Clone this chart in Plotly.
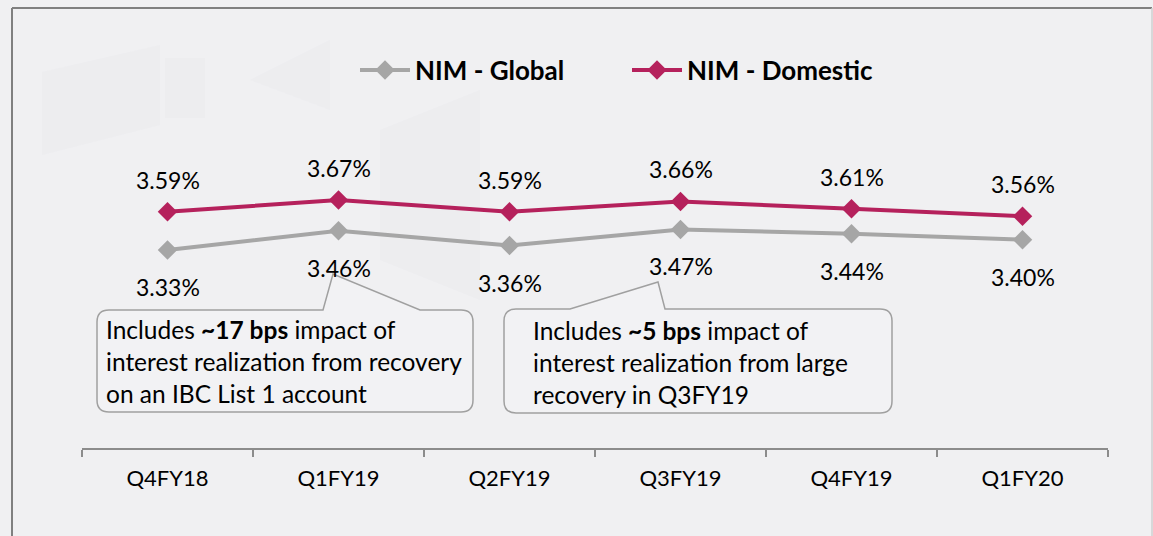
import plotly.graph_objects as go

quarters = ["Q4FY18", "Q1FY19", "Q2FY19", "Q3FY19", "Q4FY19", "Q1FY20"]
nim_global = [3.33, 3.46, 3.36, 3.47, 3.44, 3.40]
nim_domestic = [3.59, 3.67, 3.59, 3.66, 3.61, 3.56]
# \u200c prevents the Lato "ti" ligature
callout_1 = "Includes <b>~17 bps</b> impact of<br>interest realiza\u200ction from recovery<br>on an IBC List 1 account"
callout_2 = "Includes <b>~5 bps</b> impact of<br>interest realiza\u200ction from large<br>recovery in Q3FY19"

W, H = 1153, 536
PL, PR, PT, PB = 82, 1108, 100, 448
FONT = "Lato"
BG = "#F0F0F2"


def px(x):
    return (x - PL) / (PR - PL)


def py(y):
    return (PB - y) / (PB - PT)


def callout_path(L, R, T, B, a, b, ax, ay, r=12):
    s = f"M {px(L + r)},{py(T)} L {px(a)},{py(T)} L {px(ax)},{py(ay)} L {px(b)},{py(T)} "
    s += f"L {px(R - r)},{py(T)} Q {px(R)},{py(T)} {px(R)},{py(T + r)} "
    s += f"L {px(R)},{py(B - r)} Q {px(R)},{py(B)} {px(R - r)},{py(B)} "
    s += f"L {px(L + r)},{py(B)} Q {px(L)},{py(B)} {px(L)},{py(B - r)} "
    s += f"L {px(L)},{py(T + r)} Q {px(L)},{py(T)} {px(L + r)},{py(T)} Z"
    return s


fig = go.Figure()
fig.add_trace(go.Scatter(
    x=quarters, y=nim_global, name="NIM - Global", mode="lines+markers",
    line=dict(color="#A6A6A6", width=4),
    marker=dict(symbol="diamond", size=15, color="#A6A6A6"),
))
fig.add_trace(go.Scatter(
    x=quarters, y=nim_domestic, name="NIM - Domestic", mode="lines+markers",
    line=dict(color="#B5215C", width=4),
    marker=dict(symbol="diamond", size=15, color="#B5215C"),
))

annotations = []
for q, v in zip(quarters, nim_domestic):
    annotations.append(dict(x=q, y=v, xref="x", yref="y", text=f"{v:.2f}%", showarrow=False,
                            yshift=32, font=dict(family=FONT, size=23, color="#000000")))
for q, v in zip(quarters, nim_global):
    annotations.append(dict(x=q, y=v, xref="x", yref="y", text=f"{v:.2f}%", showarrow=False,
                            yshift=-37, font=dict(family=FONT, size=23, color="#000000")))

annotations.append(dict(x=px(104), y=py(313), xref="paper", yref="paper", text=callout_1,
                        showarrow=False, xanchor="left", yanchor="top", align="left",
                        font=dict(family=FONT, size=24.5, color="#000000")))
annotations.append(dict(x=px(531), y=py(314), xref="paper", yref="paper", text=callout_2,
                        showarrow=False, xanchor="left", yanchor="top", align="left",
                        font=dict(family=FONT, size=24.5, color="#000000")))

shapes = []
# faint watermark shapes
wm = "rgba(220,220,225,0.14)"
for poly in [
    [(42, 72), (160, 45), (160, 125), (42, 155)],
    [(250, 80), (330, 40), (330, 110)],
    [(165, 58), (205, 58), (205, 118), (165, 118)],
    [(380, 130), (480, 90), (480, 300), (380, 260)],
]:
    d = "M " + " L ".join(f"{px(x)},{py(y)}" for x, y in poly) + " Z"
    shapes.append(dict(type="path", path=d, xref="paper", yref="paper",
                       fillcolor=wm, line=dict(width=0), layer="below"))

# frame
shapes.append(dict(type="line", xref="paper", yref="paper", x0=px(12), x1=px(1152), y0=py(8), y1=py(8),
                   line=dict(color="#808080", width=2)))
shapes.append(dict(type="line", xref="paper", yref="paper", x0=px(12), x1=px(12), y0=py(8), y1=py(540),
                   line=dict(color="#808080", width=2)))
shapes.append(dict(type="line", xref="paper", yref="paper", x0=px(1152), x1=px(1152), y0=py(8), y1=py(540),
                   line=dict(color="#D0D0D0", width=1.5)))

# callout boxes
shapes.append(dict(type="path", xref="paper", yref="paper",
                   path=callout_path(97, 473, 310, 412, 323, 420, 333, 274),
                   fillcolor="#F2F2F4", line=dict(color="#A0A0A0", width=1.5)))
shapes.append(dict(type="path", xref="paper", yref="paper",
                   path=callout_path(504, 892, 309, 413, 570, 665, 658, 282),
                   fillcolor="#F2F2F4", line=dict(color="#A0A0A0", width=1.5)))

y_lo = 3.67 - (PB - 200) / 147.0
y_hi = 3.67 + (200 - PT) / 147.0

fig.update_layout(
    width=W, height=H,
    margin=dict(l=PL, r=W - PR, t=PT, b=H - PB, pad=0),
    paper_bgcolor=BG, plot_bgcolor=BG,
    showlegend=True,
    legend=dict(orientation="h", x=px(355), xanchor="left", y=py(70), yanchor="middle",
                font=dict(family=FONT, size=26, color="#000000", weight="bold"),
                itemwidth=50, bgcolor="rgba(0,0,0,0)", entrywidth=207),
    xaxis=dict(type="category", tickson="boundaries", ticks="outside", ticklen=7,
               tickcolor="#8C8C8C", tickwidth=2, showline=True, linecolor="#8C8C8C", linewidth=2,
               showgrid=False, zeroline=False, range=[-0.5, 5.5],
               tickfont=dict(family=FONT, size=22, color="#000000"), ticklabelstandoff=10),
    yaxis=dict(visible=False, range=[y_lo, y_hi], showgrid=False, zeroline=False),
    annotations=annotations,
    shapes=shapes,
)

fig.write_html("out.html", config={"displayModeBar": False},
               post_script="document.body.style.margin='0';document.body.style.overflow='hidden';")
